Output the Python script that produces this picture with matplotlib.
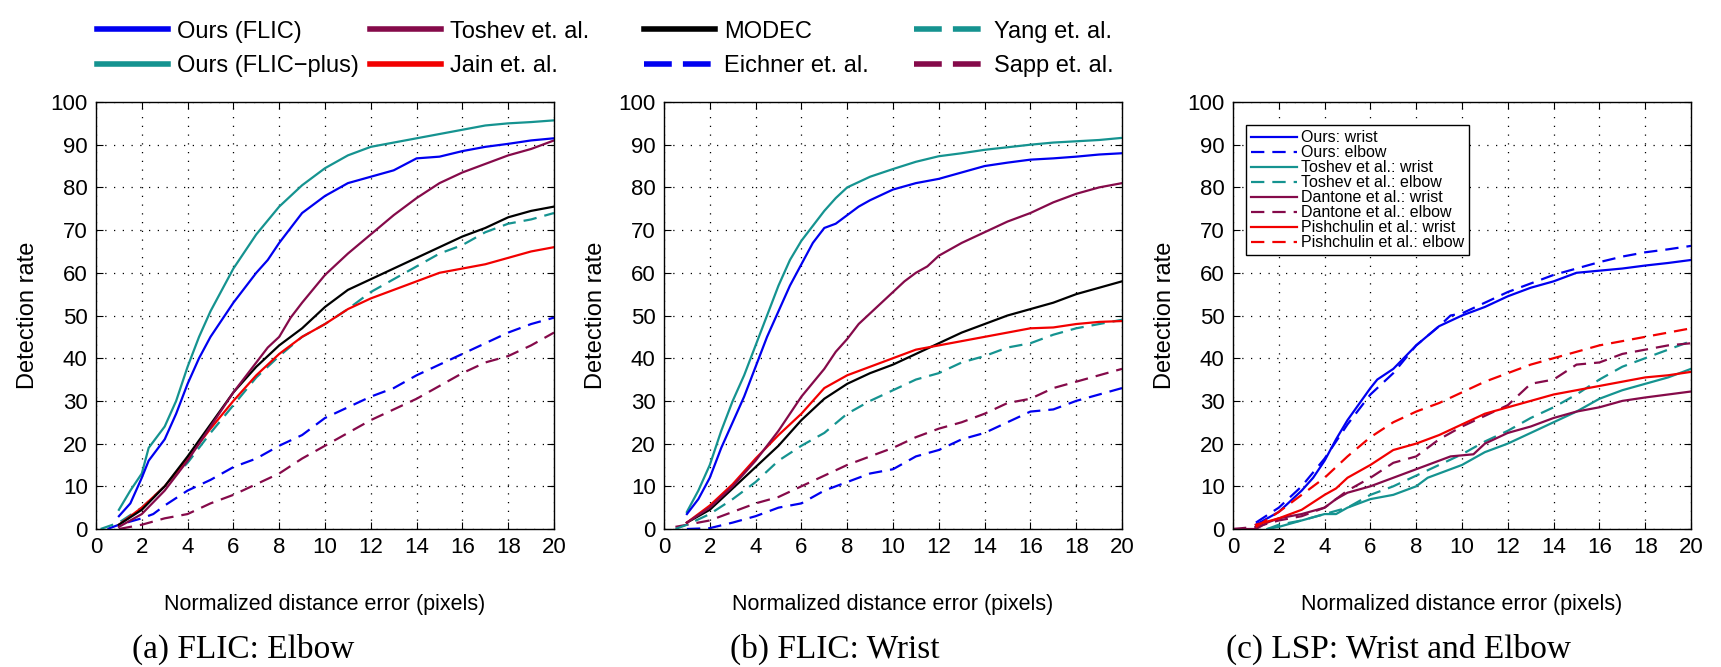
import matplotlib
matplotlib.use('Agg')
import matplotlib.pyplot as plt
from matplotlib.lines import Line2D

plt.rcParams['font.family'] = ['Liberation Sans', 'DejaVu Sans']

# ---------------- data ----------------
X20 = list(range(1, 21))

# (a) FLIC: Elbow
a_ours_x = [1, 1.5, 2, 2.3, 3, 3.5, 4, 4.5, 5, 6, 7, 7.5, 8, 9, 9.5, 10, 11, 12, 13, 14, 15, 16, 17, 18, 19, 20]
a_ours_y = [3, 6, 12, 16, 21, 27, 34, 40, 45, 53, 60, 63, 67, 74, 76, 78, 81, 82.5, 84, 86.8, 87.2, 88.5, 89.5, 90.2, 91, 91.5]
a_plus_x = [1, 1.5, 2, 2.3, 3, 3.5, 4, 4.5, 5, 6, 7, 8, 9, 10, 11, 12, 13, 14, 15, 16, 17, 18, 19, 20]
a_plus_y = [4.5, 9, 13, 19, 24, 30, 38, 45, 51, 61, 69, 75.5, 80.5, 84.5, 87.5, 89.5, 90.5, 91.5, 92.5, 93.5, 94.5, 95, 95.3, 95.7]
a_toshev_x = [1, 2, 3, 4, 5, 6, 7, 7.5, 8, 8.5, 9, 10, 11, 12, 13, 14, 15, 16, 17, 18, 19, 20]
a_toshev_y = [0.5, 3.5, 9, 16, 24, 32, 39, 42.5, 45, 49.5, 53, 59.5, 64.5, 69, 73.5, 77.5, 81, 83.5, 85.5, 87.5, 89, 91]
a_modec_y = [1, 4.5, 10, 17, 24.5, 32, 38, 43, 47, 52, 56, 58.5, 61, 63.5, 66, 68.5, 70.5, 73, 74.5, 75.5]
a_jain_y = [1, 5, 10, 16.5, 23.5, 30, 36, 41, 45, 48, 51.5, 54, 56, 58, 60, 61, 62, 63.5, 65, 66]
a_yang_x = [0.2] + X20
a_yang_y = [0, 1.5, 5, 10, 15.5, 22.5, 29, 35.5, 40.5, 45, 48, 51.5, 55.5, 58.5, 61.5, 64.5, 66.5, 69.5, 71.5, 72.5, 74]
a_eichner_x = [0.5, 1, 2, 2.5, 3, 4, 5, 6, 7, 8, 9, 10, 11, 12, 13, 14, 15, 16, 17, 18, 19, 20]
a_eichner_y = [0, 1, 2.5, 3.5, 5.5, 9, 11.5, 14.5, 16.5, 19.5, 22, 26, 28.5, 31, 33, 36, 38.5, 41, 43.5, 46, 48, 49.5]
a_sapp_y = [0, 1, 2.5, 3.5, 6, 8, 10.5, 13, 16.5, 19.5, 22.5, 25.5, 28, 30.5, 33.5, 36.5, 39, 40.5, 43, 46]

# (b) FLIC: Wrist
b_ours_x = [1, 1.5, 2, 2.5, 3, 3.5, 4, 4.5, 5, 5.5, 6, 6.5, 7, 7.5, 8, 8.5, 9, 10, 11, 12, 13, 14, 15, 16, 17, 18, 19, 20]
b_ours_y = [3.5, 7, 12, 19, 25, 31, 38, 45, 51, 57, 62, 67, 70.5, 71.5, 73.5, 75.5, 77, 79.5, 81, 82, 83.5, 85, 85.8, 86.5, 86.8, 87.2, 87.7, 88]
b_plus_x = [1, 1.5, 2, 2.5, 3, 3.5, 4, 4.5, 5, 5.5, 6, 6.5, 7, 7.5, 8, 9, 10, 11, 12, 13, 14, 15, 16, 17, 18, 19, 20]
b_plus_y = [4, 9, 15, 23, 30, 36, 43, 50, 57, 63, 67.5, 71, 74.5, 77.5, 80, 82.5, 84.3, 86, 87.3, 88, 88.8, 89.4, 90, 90.5, 90.8, 91.1, 91.6]
b_toshev_x = [1, 2, 3, 4, 5, 6, 7, 7.5, 8, 8.5, 9, 10, 10.5, 11, 11.5, 12, 13, 14, 15, 16, 17, 18, 19, 20]
b_toshev_y = [1.5, 5, 10, 16, 23, 31, 37.5, 41.5, 44.5, 48, 50.5, 55.5, 58, 60, 61.5, 64, 67, 69.5, 72, 74, 76.5, 78.5, 80, 81]
b_modec_y = [1.5, 4.5, 9.5, 14.5, 19.5, 25.5, 30.5, 34, 36.5, 38.5, 41, 43.5, 46, 48, 50, 51.5, 53, 55, 56.5, 58]
b_jain_y = [1.5, 5.5, 10.5, 16.5, 22, 27, 33, 36, 38, 40, 42, 43, 44, 45, 46, 47, 47.2, 48, 48.5, 48.7]
b_yang_x = [0.5] + X20
b_yang_y = [0, 1, 3.5, 7, 11, 16, 19.5, 22.5, 27, 30, 32.5, 35, 36.5, 39, 40.5, 42.5, 43.5, 45.5, 47, 48, 49]
b_sapp_x = [0.5] + X20
b_sapp_y = [0.5, 1, 2, 4, 6, 7.5, 10, 12.5, 15, 17, 19, 21.5, 23.5, 25, 27, 29.5, 30.5, 33, 34.5, 36, 37.5]
b_eichner_y = [0, 0.2, 1.5, 3, 5, 6, 9, 11, 13, 14, 17, 18.5, 21, 22.5, 25, 27.5, 28, 30, 31.5, 33]

# (c) LSP: Wrist and Elbow
c_ours_w_x = [1, 2, 3, 3.5, 4, 4.5, 5, 6, 6.3, 7, 8, 9, 10, 11, 12, 13, 14, 15, 16, 17, 18, 19, 20]
c_ours_w_y = [1, 4, 9, 12, 16, 21, 25.5, 33, 35, 37.5, 43, 47.5, 50, 52, 54.5, 56.5, 58, 60, 60.5, 61, 61.7, 62.3, 63]
c_ours_e_x = [1, 2, 3, 4, 5, 6, 7, 8, 9, 9.5, 10, 11, 12, 13, 14, 15, 16, 17, 18, 19, 20]
c_ours_e_y = [1.5, 5, 10, 16.5, 24.5, 31.5, 36.5, 43, 47.5, 50, 50.5, 53, 55.5, 57.5, 59.5, 61, 62.5, 63.8, 64.8, 65.5, 66.3]
c_tosh_w_x = [1.5, 2, 3, 4, 4.5, 5, 6, 7, 8, 8.5, 9, 10, 11, 12, 13, 14, 15, 16, 17, 18, 19, 20]
c_tosh_w_y = [0, 0.5, 2, 3.5, 3.5, 5, 7, 8, 10, 12, 13, 15, 18, 20, 22.5, 25, 27.5, 30.5, 32.5, 34, 35.5, 37.5]
c_tosh_e_x = [1.5] + list(range(2, 21))
c_tosh_e_y = [0, 1, 2, 3.5, 5, 8, 10, 12.5, 15, 17.5, 20.5, 23, 26, 28.5, 31.5, 35, 38, 40, 42, 44]
c_dant_w_x = [0, 1, 1.5, 2, 3, 4, 4.5, 5, 6, 7, 8, 9, 9.5, 10.5, 11, 12, 13, 14, 15, 16, 17, 18, 19, 20]
c_dant_w_y = [0, 0, 1.5, 2.5, 3.5, 5, 7, 8.5, 10, 12, 14, 16, 17, 17.5, 20, 22.5, 24, 26, 27.5, 28.5, 30, 30.8, 31.5, 32.2]
c_dant_e_x = [0] + X20
c_dant_e_y = [0, 0.5, 2, 3, 5, 9, 12, 15.5, 17, 21, 24, 26.5, 29, 34, 35, 38.5, 39, 41, 42, 43, 43.5]
c_pish_w_x = [1, 2, 3, 4, 4.5, 5, 6, 7, 8, 9, 10, 11, 12, 13, 14, 15, 16, 17, 18, 19, 20]
c_pish_w_y = [1, 2.5, 4.5, 8, 9.5, 12, 15, 18.5, 20, 22, 24.5, 27, 28.5, 30, 31.5, 32.5, 33.5, 34.5, 35.5, 36, 36.8]
c_pish_e_y = [0.5, 4, 8, 12, 17, 21.5, 25, 27.5, 29.5, 32, 34.5, 36.5, 38.5, 40, 41.5, 43, 44, 45, 46, 47]

x_ticks = list(range(0, 21, 2))
y_ticks = list(range(0, 101, 10))
x_label = 'Normalized distance error (pixels)'
y_label = 'Detection rate'
captions = ['(a) FLIC: Elbow', '(b) FLIC: Wrist', '(c) LSP: Wrist and Elbow']
top_labels = ['Ours (FLIC)', 'Ours (FLIC\u2212plus)', 'Toshev et. al.', 'Jain et. al.',
              'MODEC', 'Eichner et. al.', 'Yang et. al.', 'Sapp et. al.']
c_labels = ['Ours: wrist', 'Ours: elbow', 'Toshev et al.: wrist', 'Toshev et al.: elbow',
            'Dantone et al.: wrist', 'Dantone et al.: elbow', 'Pishchulin et al.: wrist',
            'Pishchulin et al.: elbow']

# ---------------- style ----------------
BLUE = '#0000f0'
TEAL = '#159390'
MAROON = '#850a4a'
RED = '#f20000'
BLACK = '#000000'
DASH = (0, (6.0, 3.6))
LW = 1.6
TICK_FS = 16

W, H = 1721, 667
fig = plt.figure(figsize=(W / 100, H / 100), dpi=100)


def px_axes(left, right, top, bottom):
    return fig.add_axes([left / W, 1 - bottom / H, (right - left) / W, (bottom - top) / H])


def style(ax):
    ax.set_xlim(0, 20)
    ax.set_ylim(0, 100)
    ax.set_xticks(x_ticks)
    ax.set_yticks(y_ticks)
    ax.tick_params(direction='in', length=5, width=0.8, top=True, right=True,
                   labelsize=TICK_FS, pad=6)
    ax.grid(True, color='black', linestyle=(0, (1, 6)), linewidth=0.9)
    for s in ax.spines.values():
        s.set_linewidth(1.0)
    ax.set_xlabel(x_label, fontsize=15.5, labelpad=26)
    ax.set_ylabel(y_label, fontsize=17, labelpad=8)


TOP, BOT = 102, 529
ax_a = px_axes(96, 554, TOP, BOT)
ax_b = px_axes(664, 1122, TOP, BOT)
ax_c = px_axes(1233, 1691, TOP, BOT)

# (a)
ax_a.plot(a_eichner_x, a_eichner_y, color=BLUE, ls=DASH, lw=LW)
ax_a.plot(X20, a_sapp_y, color=MAROON, ls=DASH, lw=LW)
ax_a.plot(a_yang_x, a_yang_y, color=TEAL, ls=DASH, lw=LW)
ax_a.plot(X20, a_jain_y, color=RED, lw=LW)
ax_a.plot(X20, a_modec_y, color=BLACK, lw=LW)
ax_a.plot(a_toshev_x, a_toshev_y, color=MAROON, lw=LW)
ax_a.plot(a_plus_x, a_plus_y, color=TEAL, lw=LW)
ax_a.plot(a_ours_x, a_ours_y, color=BLUE, lw=LW)

# (b)
ax_b.plot(X20, b_eichner_y, color=BLUE, ls=DASH, lw=LW)
ax_b.plot(b_sapp_x, b_sapp_y, color=MAROON, ls=DASH, lw=LW)
ax_b.plot(b_yang_x, b_yang_y, color=TEAL, ls=DASH, lw=LW)
ax_b.plot(X20, b_modec_y, color=BLACK, lw=LW)
ax_b.plot(X20, b_jain_y, color=RED, lw=LW)
ax_b.plot(b_toshev_x, b_toshev_y, color=MAROON, lw=LW)
ax_b.plot(b_plus_x, b_plus_y, color=TEAL, lw=LW)
ax_b.plot(b_ours_x, b_ours_y, color=BLUE, lw=LW)

# (c)
c_lines = []
c_lines += ax_c.plot(c_ours_w_x, c_ours_w_y, color=BLUE, lw=LW)
c_lines += ax_c.plot(c_ours_e_x, c_ours_e_y, color=BLUE, ls=DASH, lw=LW)
c_lines += ax_c.plot(c_tosh_w_x, c_tosh_w_y, color=TEAL, lw=LW)
c_lines += ax_c.plot(c_tosh_e_x, c_tosh_e_y, color=TEAL, ls=DASH, lw=LW)
c_lines += ax_c.plot(c_dant_w_x, c_dant_w_y, color=MAROON, lw=LW)
c_lines += ax_c.plot(c_dant_e_x, c_dant_e_y, color=MAROON, ls=DASH, lw=LW)
c_lines += ax_c.plot(c_pish_w_x, c_pish_w_y, color=RED, lw=LW)
c_lines += ax_c.plot(X20, c_pish_e_y, color=RED, ls=DASH, lw=LW)

for ax in (ax_a, ax_b, ax_c):
    style(ax)

leg_c = ax_c.legend(c_lines, c_labels, loc='upper left', bbox_to_anchor=(0.028, 0.945),
                    fontsize=11.5, handlelength=2.9, handletextpad=0.25, labelspacing=0.0,
                    borderpad=0.3, borderaxespad=0, fancybox=False, framealpha=1,
                    edgecolor='black')
leg_c.get_frame().set_linewidth(1.0)

# top legend (4 columns of 2 entries)
TOP_DASH = (0, (5, 2))
top_styles = [(BLUE, '-'), (TEAL, '-'), (MAROON, '-'), (RED, '-'),
              (BLACK, '-'), (BLUE, TOP_DASH), (TEAL, TOP_DASH), (MAROON, TOP_DASH)]
col_x = [97, 370, 644, 914]
for ci, cx in enumerate(col_x):
    hs = [Line2D([], [], color=top_styles[k][0], ls=top_styles[k][1], lw=4.0)
          for k in (2 * ci, 2 * ci + 1)]
    ls_ = [top_labels[2 * ci], top_labels[2 * ci + 1]]
    fig.legend(hs, ls_, loc='center left', bbox_to_anchor=(cx / W, 1 - 49 / H),
               frameon=False, fontsize=17, handlelength=3.0, handletextpad=0.4,
               labelspacing=0.55, borderpad=0, borderaxespad=0)

cap_x = [243, 835, 1398]
for cx, txt in zip(cap_x, captions):
    fig.text(cx / W, 1 - 658 / H, txt, ha='center', va='baseline', fontsize=24,
             family=['Liberation Serif', 'DejaVu Serif'])

fig.savefig('out.png', dpi=100)
